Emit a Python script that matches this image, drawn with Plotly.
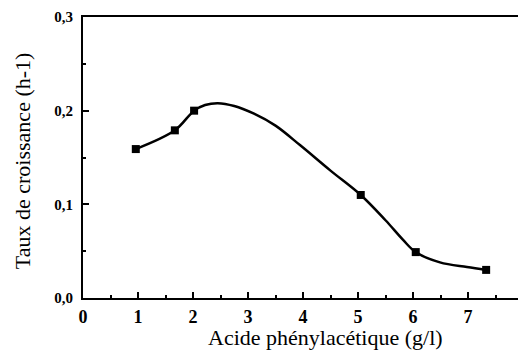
import plotly.graph_objects as go

# measured points
x_pts = [0.96, 1.67, 2.02, 5.05, 6.05, 7.33]
y_pts = [0.159, 0.179, 0.200, 0.110, 0.049, 0.030]

# smooth curve
curve_x = [0.96, 1.67, 2.02, 2.22, 2.45, 2.75, 3.1, 3.5, 3.95, 4.5, 5.05, 5.5, 5.82, 6.05, 6.49, 6.98, 7.33]
curve_y = [0.159, 0.179, 0.200, 0.206, 0.208, 0.205, 0.197, 0.184, 0.163, 0.136, 0.110, 0.083, 0.062, 0.049, 0.038, 0.033, 0.030]

x_ticks = [0, 1, 2, 3, 4, 5, 6, 7, 8]
y_ticks = [0.0, 0.1, 0.2, 0.3]
y_tick_labels = ["0,0", "0,1", "0,2", "0,3"]

x_title = "Acide phénylacétique (g/l)"
y_title = "Taux de croissance (h-1)"

font_family = "Liberation Serif"

fig = go.Figure()
fig.add_trace(go.Scatter(x=curve_x, y=curve_y, mode="lines",
                         line=dict(color="black", width=2.5, shape="spline", smoothing=1.0),
                         hoverinfo="skip", showlegend=False))
fig.add_trace(go.Scatter(x=x_pts, y=y_pts, mode="markers",
                         marker=dict(symbol="square", size=8, color="black"),
                         showlegend=False))

# page has an 8px body margin, so the figure is sized/offset to compensate
fig.update_layout(
    width=518, height=350,
    margin=dict(l=75, r=3, t=9, b=60),
    paper_bgcolor="white", plot_bgcolor="white",
    font=dict(family=font_family, color="black"),
    annotations=[
        dict(text=x_title, xref="paper", yref="paper", x=0.552, y=-0.140,
             xanchor="center", yanchor="middle", showarrow=False,
             font=dict(size=22, family=font_family, color="black")),
        dict(text=y_title, xref="paper", yref="paper", x=-0.139, y=0.49,
             xanchor="center", yanchor="middle", showarrow=False, textangle=-90,
             font=dict(size=22, family=font_family, color="black")),
    ],
)
fig.update_xaxes(
    range=[0, 8], tickvals=x_ticks, ticktext=[str(v) for v in x_ticks],
    ticks="inside", ticklen=6, tickwidth=1.5, tickcolor="black",
    minor=dict(dtick=0.5, ticks="inside", ticklen=3, tickcolor="black", tickwidth=1.5, showgrid=False),
    showline=True, linecolor="black", linewidth=2, mirror=True,
    showgrid=False, zeroline=False, automargin=False,
    tickfont=dict(size=18, family=font_family, weight="bold"),
    ticklabelstandoff=1, ticklabeloverflow="allow",
)
fig.update_yaxes(
    range=[0, 0.3], tickvals=y_ticks, ticktext=y_tick_labels,
    ticks="inside", ticklen=6, tickwidth=1.5, tickcolor="black",
    minor=dict(dtick=0.05, ticks="inside", ticklen=3, tickcolor="black", tickwidth=1.5, showgrid=False),
    showline=True, linecolor="black", linewidth=2, mirror=True,
    showgrid=False, zeroline=False, automargin=False,
    tickfont=dict(size=15, family=font_family, weight="bold"),
    ticklabelstandoff=5, ticklabeloverflow="allow",
)

fig.write_html("out.html")
